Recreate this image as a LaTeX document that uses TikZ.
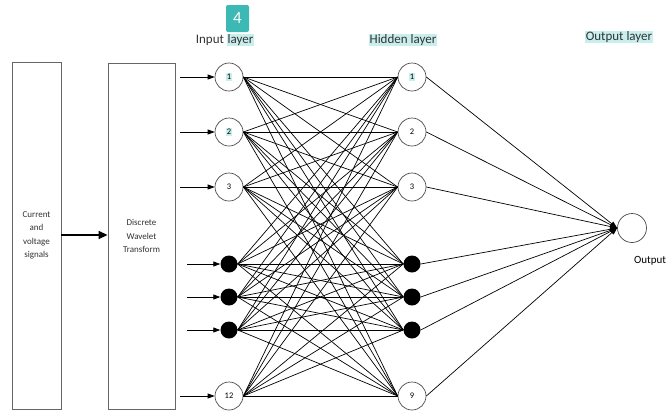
\documentclass[tikz,border=0pt]{standalone}
\usepackage{fontspec}
\setmainfont{Carlito}
\usetikzlibrary{arrows.meta}
\definecolor{hl}{HTML}{C9EEEE}
\definecolor{badge}{HTML}{3CB9B4}
\newcommand{\hlt}[1]{{\setlength{\fboxsep}{0.8pt}\colorbox{hl}{#1}}}

\begin{document}
\begin{tikzpicture}[x=1pt, y=-1pt,
    every node/.style={font=\fontsize{8.5}{13.5}\selectfont},
    box/.style={draw=black!60, line width=0.9pt, minimum width=49pt, inner sep=0pt, align=center, font=\fontsize{9}{13.5}\selectfont, text=black!80},
    neuron/.style={draw=black!70, line width=0.7pt, circle, fill=white, minimum size=28pt, inner sep=0pt},
    dot/.style={circle, fill=black, minimum size=17pt, inner sep=0pt},
    link/.style={line width=0.7pt},
    feed/.style={line width=0.8pt, -{Triangle[length=7pt,width=5pt]}},
    title/.style={font=\fontsize{13}{14}\selectfont, text=black!80}]
  \useasboundingbox (0,0) rectangle (669,413);

  % blocks
  \node[box, minimum width=49pt, minimum height=347pt] at (36.5,235.5) (sig) {Current\\and\\voltage\\signals};
  \node[box, minimum width=67pt, minimum height=346pt] at (141.5,236) (dwt) {Discrete\\Wavelet\\Transform};
  \draw[line width=1.6pt, -{Triangle[length=9pt,width=8pt]}] (sig.east |- 0,235) -- (dwt.west |- 0,235);

  % input layer
  \node[neuron] at (229, 77)  (i1) {\hlt{1}};
  \node[neuron] at (229,132)  (i2) {\hlt{2}};
  \node[neuron] at (229,187)  (i3) {3};
  \node[dot]    at (229,264)  (i4) {};
  \node[dot]    at (229,297)  (i5) {};
  \node[dot]    at (229,330)  (i6) {};
  \node[neuron] at (229,396)  (i7) {12};

  % hidden layer
  \node[neuron] at (412, 77)  (h1) {\hlt{1}};
  \node[neuron] at (412,132)  (h2) {2};
  \node[neuron] at (412,187)  (h3) {3};
  \node[dot]    at (412,264)  (h4) {};
  \node[dot]    at (412,297)  (h5) {};
  \node[dot]    at (412,330)  (h6) {};
  \node[neuron] at (412,396)  (h7) {9};

  % output layer
  \node[neuron, minimum size=29pt] at (632,228) (out) {};
  \node at (650,261) (outlbl) {\fontsize{11}{12}\selectfont Output};

  % inputs from the transform
  \foreach \n/\s in {1/180,2/180,3/180,4/187,5/187,6/187,7/180}
    \draw[feed] (\s,0 |- i\n) coordinate (in\n) -- (i\n.west);

  % full connection
  \foreach \a in {1,...,7}
    \foreach \b in {1,...,7}
      \draw[link] (i\a.east) -- (h\b.west);
  \foreach \b in {1,...,7}
    \draw[link, -{Triangle[length=7pt,width=5pt]}] (h\b.east) -- (out.west);

  % titles
  \node[title] at (225,40) (tin) {Input \hlt{layer}};
  \node[title] at (403,40) (thid) {\hlt{Hidden layer}};
  \node[title] at (619,37) (tout) {\hlt{Output layer}};
  \node[fill=badge, rounded corners=2pt, text=white, minimum width=23pt, minimum height=27pt, inner sep=0pt, font=\fontsize{17}{17}\selectfont] at (237.5,18.5) (tag) {4};
\end{tikzpicture}
\end{document}
